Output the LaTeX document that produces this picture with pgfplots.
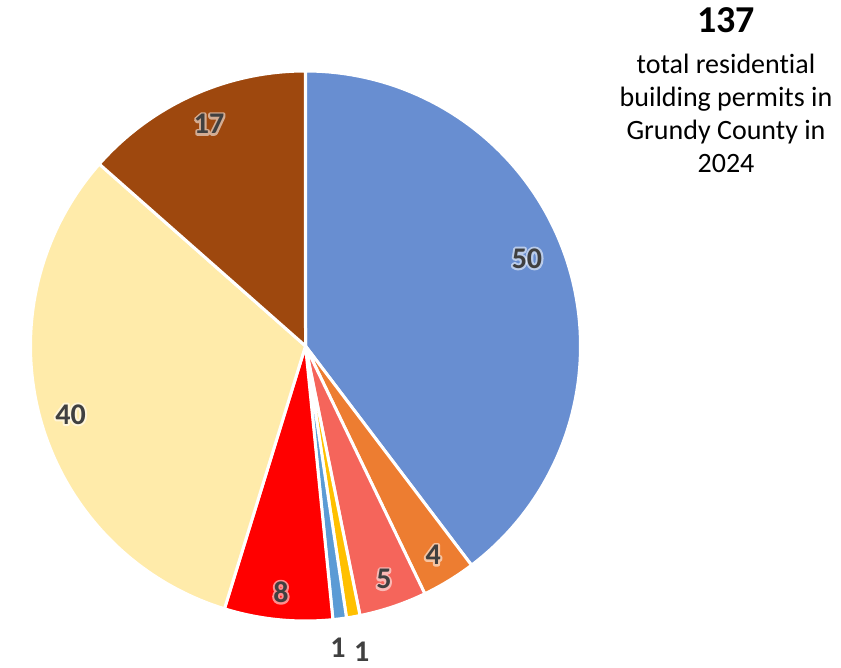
\documentclass[border=0pt]{standalone}
\usepackage{pgfplots}
\pgfplotsset{compat=1.18}
\usepackage{fontspec}
\setmainfont{Carlito}[Ligatures={NoCommon}]
\definecolor{cblue}{RGB}{104,142,209}
\definecolor{corange}{RGB}{237,125,49}
\definecolor{csalmon}{RGB}{245,101,91}
\definecolor{cgold}{RGB}{255,192,0}
\definecolor{clblue}{RGB}{91,155,213}
\definecolor{cred}{RGB}{255,0,0}
\definecolor{ccream}{RGB}{255,235,170}
\definecolor{cbrown}{RGB}{158,72,14}
\definecolor{labtext}{RGB}{64,64,64}
% values (clockwise from 12 o'clock)
\def\vA{50}\def\vB{4}\def\vC{5}\def\vD{1}\def\vE{1}\def\vF{8}\def\vG{40}\def\vH{17}
\pgfmathsetmacro\tot{\vA+\vB+\vC+\vD+\vE+\vF+\vG+\vH}
\pgfmathsetmacro\aA{90}
\pgfmathsetmacro\aB{\aA-\vA/\tot*360}
\pgfmathsetmacro\aC{\aB-\vB/\tot*360}
\pgfmathsetmacro\aD{\aC-\vC/\tot*360}
\pgfmathsetmacro\aE{\aD-\vD/\tot*360}
\pgfmathsetmacro\aF{\aE-\vE/\tot*360}
\pgfmathsetmacro\aG{\aF-\vF/\tot*360}
\pgfmathsetmacro\aH{\aG-\vG/\tot*360}
\pgfmathsetmacro\aI{\aH-\vH/\tot*360}
\def\cx{305.5}\def\cy{322}\def\R{275}
\newcommand{\labfont}{\fontsize{30}{36}\selectfont\bfseries}
\newcommand{\glowtext}[1]{\special{pdf:literal 1 Tr 1 1 1 RG 4 w 1 j}#1\special{pdf:literal 0 Tr}}
\newcommand{\inlab}[4]{% start angle, end angle, angle shift, radius factor ... text via \curlab
  \pgfmathsetmacro\mm{(#1+#2)/2+#3}%
  \pgfmathsetmacro\lx{\cx+#4*\R*cos(\mm)}%
  \pgfmathsetmacro\ly{\cy+#4*\R*sin(\mm)}%
  \node[text=white,opacity=0.55,font=\labfont] at (axis cs:\lx,\ly) {\glowtext{\curlab}};
  \node[text=labtext,font=\labfont] at (axis cs:\lx,\ly) {\curlab};}
\newcommand{\outlab}[4]{%
  \pgfmathsetmacro\mm{(#1+#2)/2+#3}%
  \pgfmathsetmacro\lx{\cx+#4*\R*cos(\mm)}%
  \pgfmathsetmacro\ly{\cy+#4*\R*sin(\mm)}%
  \node[text=labtext,font=\labfont] at (axis cs:\lx,\ly) {\curlab};}
\begin{document}
\begin{tikzpicture}
\begin{axis}[at={(0,0)},anchor=south west,width=841pt,height=668pt,scale only axis,
  xmin=0,xmax=841,ymin=0,ymax=668,hide axis,clip=false]
\path (rel axis cs:0,0) rectangle (rel axis cs:1,1);
\pgfplotsset{pieslice/.style={draw=white,line width=3pt,line join=round,samples=90,variable=\t}}
\addplot[pieslice,fill=cblue,domain=\aB:\aA] ({\cx+\R*cos(\t)},{\cy+\R*sin(\t)}) -- (axis cs:\cx,\cy) -- cycle;
\addplot[pieslice,fill=corange,domain=\aC:\aB] ({\cx+\R*cos(\t)},{\cy+\R*sin(\t)}) -- (axis cs:\cx,\cy) -- cycle;
\addplot[pieslice,fill=csalmon,domain=\aD:\aC] ({\cx+\R*cos(\t)},{\cy+\R*sin(\t)}) -- (axis cs:\cx,\cy) -- cycle;
\addplot[pieslice,fill=cgold,domain=\aE:\aD,samples=10] ({\cx+\R*cos(\t)},{\cy+\R*sin(\t)}) -- (axis cs:\cx,\cy) -- cycle;
\addplot[pieslice,fill=clblue,domain=\aF:\aE,samples=10] ({\cx+\R*cos(\t)},{\cy+\R*sin(\t)}) -- (axis cs:\cx,\cy) -- cycle;
\addplot[pieslice,fill=cred,domain=\aG:\aF] ({\cx+\R*cos(\t)},{\cy+\R*sin(\t)}) -- (axis cs:\cx,\cy) -- cycle;
\addplot[pieslice,fill=ccream,domain=\aH:\aG] ({\cx+\R*cos(\t)},{\cy+\R*sin(\t)}) -- (axis cs:\cx,\cy) -- cycle;
\addplot[pieslice,fill=cbrown,domain=\aI:\aH] ({\cx+\R*cos(\t)},{\cy+\R*sin(\t)}) -- (axis cs:\cx,\cy) -- cycle;
% labels
\pgfplotsextra{%
\def\curlab{\vA}\inlab{\aA}{\aB}{3}{0.866}
\def\curlab{\vB}\inlab{\aB}{\aC}{0}{0.89}
\def\curlab{\vC}\inlab{\aC}{\aD}{0}{0.895}
\def\curlab{\vD}\outlab{\aD}{\aE}{0.4}{1.13}
\def\curlab{\vE}\outlab{\aE}{\aF}{-1}{1.105}
\def\curlab{\vF}\inlab{\aF}{\aG}{0}{0.9}
\def\curlab{\vG}\inlab{\aG}{\aH}{0.5}{0.89}
\def\curlab{\vH}\inlab{\aH}{\aI}{-0.8}{0.88}
}
% text block
\node[anchor=base,font=\fontsize{38}{44}\selectfont\bfseries] at (axis cs:726,635) {137};
\node[anchor=base,font=\fontsize{28}{33}\selectfont] at (axis cs:726,594) {total residential};
\node[anchor=base,font=\fontsize{28}{33}\selectfont] at (axis cs:726,561) {building permits in};
\node[anchor=base,font=\fontsize{28}{33}\selectfont] at (axis cs:726,528) {Grundy County in};
\node[anchor=base,font=\fontsize{28}{33}\selectfont] at (axis cs:726,495) {2024};
\end{axis}
\end{tikzpicture}
\end{document}
